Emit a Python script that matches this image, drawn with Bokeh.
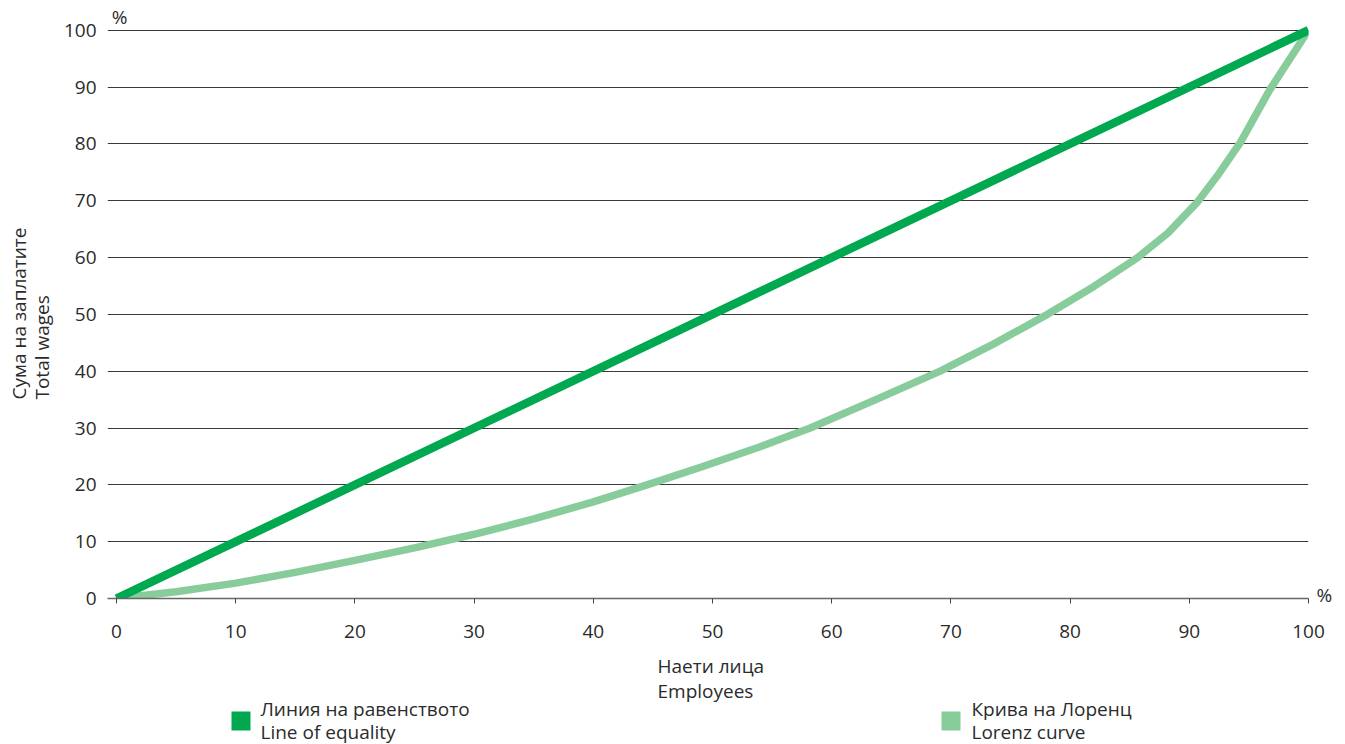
import math
from bokeh.plotting import figure
from bokeh.models import Range1d, FixedTicker, LinearAxis
from bokeh.layouts import column, row
from bokeh.core.properties import value
from bokeh.embed import file_html
from bokeh.resources import INLINE

# ---- data ----
equality_x = [0, 100]
equality_y = [0, 100]

lorenz_x = [0, 5, 10, 15, 20, 25, 30, 35, 40, 44.5, 49, 54, 58.2, 63.7, 69.1, 73.6,
            78.1, 82, 85.6, 88.2, 90.7, 92.5, 94.3, 96.75, 100]
lorenz_y = [0, 1.2, 2.7, 4.6, 6.7, 8.9, 11.3, 14.0, 17.0, 20.0, 23.1, 26.7, 30.0, 35.0,
            40.0, 44.8, 50.0, 54.9, 59.9, 64.3, 69.8, 74.8, 80.3, 89.5, 100]

x_ticks = [0, 10, 20, 30, 40, 50, 60, 70, 80, 90, 100]
y_ticks = [0, 10, 20, 30, 40, 50, 60, 70, 80, 90, 100]

y_label_lines = ["Сума на  заплатите", "Total wages"]
x_label_lines = ["Наети лица", "Employees"]
unit_label = "%"
legend_labels = [["Линия на равенството", "Line of equality"],
                 ["Крива на Лоренц", "Lorenz curve"]]

EQ_COLOR = "#00a84f"
LZ_COLOR = "#89cc9b"
TXT = "#2b2b2b"
FONT = "Open Sans"
FS = "19px"

W = 1345
H_TOP = 652          # height of the row holding the chart
W_YL = 60            # width of the y-label strip
H_BOT = 744 - H_TOP  # x-label + legend strip

W_MAIN = W - W_YL
FL, FR, FT, FB = 107 - W_YL, 1308 - W_YL, 23, 598
x0, x1 = -0.755, 100.0
y0, y1 = 0.0, 101.0

p = figure(width=W_MAIN, height=H_TOP, output_backend="svg", toolbar_location=None,
           x_range=Range1d(x0, x1), y_range=Range1d(y0, y1),
           min_border_left=FL, min_border_right=W_MAIN - FR,
           min_border_top=FT, min_border_bottom=H_TOP - FB)
p.outline_line_color = None
p.background_fill_color = "white"
p.border_fill_color = "white"

p.xaxis.ticker = FixedTicker(ticks=x_ticks)
p.yaxis.ticker = FixedTicker(ticks=y_ticks)
p.xaxis.axis_line_color = "#666666"
p.xaxis.axis_line_width = 1.5
p.xaxis.major_tick_line_color = "#444444"
p.xaxis.major_tick_out = 5
p.xaxis.major_tick_in = 0
p.xaxis.minor_tick_line_color = None
p.xaxis.major_label_standoff = 21
p.yaxis.axis_line_color = None
p.yaxis.major_tick_line_color = None
p.yaxis.major_tick_out = 0
p.yaxis.major_tick_in = 0
p.yaxis.minor_tick_line_color = None
p.yaxis.minor_tick_out = 0
p.yaxis.major_label_standoff = 11
for ax in (p.xaxis, p.yaxis):
    ax.major_label_text_font = FONT
    ax.major_label_text_font_size = FS
    ax.major_label_text_color = TXT

unit_style = dict(axis_line_color=None, major_tick_line_color=None,
                  minor_tick_line_color=None, major_tick_out=0, major_tick_in=0,
                  minor_tick_out=0, minor_tick_in=0,
                  major_label_text_font=FONT, major_label_text_font_size=FS,
                  major_label_text_color=TXT)
top_ax = LinearAxis(ticker=FixedTicker(ticks=[0.25]), major_label_overrides={0.25: unit_label},
                    major_label_standoff=-5, **unit_style)
p.add_layout(top_ax, "above")
right_ax = LinearAxis(ticker=FixedTicker(ticks=[0.7]), major_label_overrides={0.7: unit_label},
                      major_label_standoff=8, **unit_style)
p.add_layout(right_ax, "right")

p.xgrid.grid_line_color = None
p.ygrid.grid_line_color = "#3a3a3a"
p.ygrid.grid_line_width = 1

p.line(lorenz_x, lorenz_y, line_color=LZ_COLOR, line_width=7.5, line_join="round")
p.line(equality_x, equality_y, line_color=EQ_COLOR, line_width=8.5, line_join="round")

# y-label strip (page pixel coordinates)
yl = figure(width=W_YL, height=H_TOP, output_backend="svg", toolbar_location=None,
            x_range=Range1d(0, W_YL), y_range=Range1d(H_TOP, 0), min_border=0)
yl.axis.visible = False
yl.grid.visible = False
yl.outline_line_color = None
yl.text([18.5, 41], [426, 426], text=y_label_lines, angle=math.pi / 2,
        text_font=value(FONT), text_font_size=FS, text_color=TXT,
        text_align="left", text_baseline="middle")

# x-label + legend strip (page pixel coordinates)
leg = figure(width=W, height=H_BOT, output_backend="svg", toolbar_location=None,
             x_range=Range1d(0, W), y_range=Range1d(744, H_TOP), min_border=0)
leg.axis.visible = False
leg.grid.visible = False
leg.outline_line_color = None
leg.text([657, 657], [665, 690], text=x_label_lines, text_font=value(FONT),
         text_font_size=FS, text_color=TXT, text_baseline="middle")
leg_sq_x = [240.5, 950.5]
leg_txt_x = [260, 971]
leg.scatter(leg_sq_x, [720.5, 720.5], marker="square", size=19,
            fill_color=[EQ_COLOR, LZ_COLOR], line_color=None)
for i, lines in enumerate(legend_labels):
    leg.text([leg_txt_x[i], leg_txt_x[i]], [708, 731], text=lines, text_font=value(FONT),
             text_font_size=FS, text_color=TXT, text_baseline="middle")

layout = column(row(yl, p, spacing=0), leg, spacing=0)
open("out.html", "w").write(file_html(layout, INLINE))
